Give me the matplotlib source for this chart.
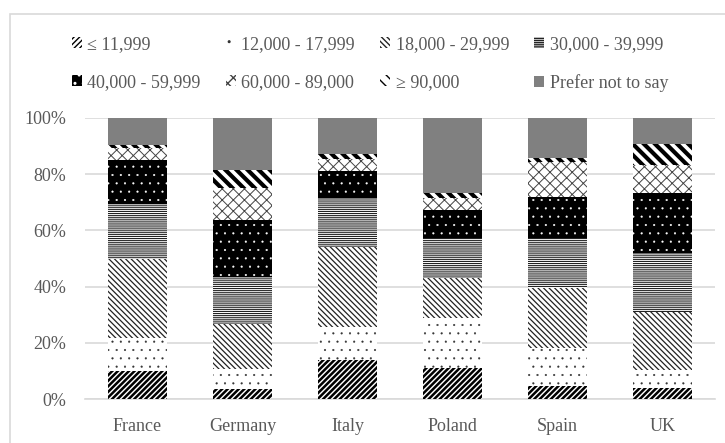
import matplotlib.pyplot as plt
import numpy as np
from matplotlib.patches import Rectangle

# Share of respondents by household income, per country (percent)
countries = ['France', 'Germany', 'Italy', 'Poland', 'Spain', 'UK']
income_bands = ['≤ 11,999', '12,000 - 17,999', '18,000 - 29,999', '30,000 - 39,999',
                '40,000 - 59,999', '60,000 - 89,000', '≥ 90,000', 'Prefer not to say']

under_12k = [10.0, 3.6, 13.9, 11.0, 4.6, 3.9]
from_12k = [11.7, 7.1, 11.7, 17.8, 13.5, 6.4]
from_18k = [28.1, 16.0, 28.5, 14.2, 21.4, 20.6]
from_30k = [19.6, 16.7, 17.4, 14.2, 17.8, 21.0]
from_40k = [15.7, 20.3, 9.6, 10.0, 14.6, 21.4]
from_60k = [4.3, 11.4, 4.3, 4.3, 12.5, 10.0]
over_90k = [1.0, 6.4, 1.8, 1.8, 1.4, 7.5]
prefer_not = [9.6, 18.5, 12.8, 26.7, 14.2, 9.3]

series = [under_12k, from_12k, from_18k, from_30k, from_40k, from_60k, over_90k, prefer_not]

# (facecolor, hatch colour, hatch, hatch linewidth)
styles = [
    ('white', 'black', '//////', 1.8),
    ('white', '#333333', '..', 0.3),
    ('white', '#222222', '\\' * 6, 0.9),
    ('white', '#222222', '-' * 8, 0.8),
    ('black', 'white', '..', 0.3),
    ('white', '#444444', 'xxx', 0.7),
    ('white', 'black', '\\\\\\', 3.0),
    ('#808080', '#808080', '', 1.0),
]

plt.rcParams['font.family'] = ['Liberation Serif', 'DejaVu Serif']
text_col = '#595959'

fig = plt.figure(figsize=(7.25, 4.43), dpi=100)
ax = fig.add_axes([85 / 725, 1 - 399 / 443, 630 / 725, 281 / 443])

x = np.arange(len(countries))
bottom = np.zeros(len(countries))
handles = []
for vals, label, (fc, hc, hatch, hlw) in zip(series, income_bands, styles):
    vals = np.array(vals) / 100
    bars = ax.bar(x, vals, 0.57, bottom=bottom, color=fc, edgecolor=hc, linewidth=0,
                  hatch=hatch, hatch_linewidth=hlw, label=label, zorder=3)
    handles.append(bars)
    bottom += vals

ax.set_xlim(-0.5, len(countries) - 0.5)
ax.set_ylim(0, 1)
ax.set_yticks(np.arange(0, 1.01, 0.2))
ax.set_yticklabels([f'{int(round(t * 100))}%' for t in np.arange(0, 1.01, 0.2)])
ax.set_xticks(x)
ax.set_xticklabels(countries)
ax.grid(axis='y', color='#d9d9d9', linewidth=1.2, zorder=0)
for side in ['top', 'right', 'left']:
    ax.spines[side].set_visible(False)
ax.spines['bottom'].set_color('#d9d9d9')
ax.spines['bottom'].set_linewidth(1.2)
ax.tick_params(length=0, labelsize=13, colors=text_col)
ax.tick_params(axis='x', pad=14)
ax.tick_params(axis='y', pad=13.5)

# legend is filled column-wise, so reorder to read row by row
order = [0, 4, 1, 5, 2, 6, 3, 7]
leg = fig.legend([handles[i] for i in order], [income_bands[i] for i in order],
                 ncol=4, loc='upper left', bbox_to_anchor=(72 / 725, 1 - 36 / 443),
                 frameon=False, fontsize=13, handlelength=0.55, handleheight=0.55,
                 handletextpad=0.3, columnspacing=1.4, labelspacing=1.15,
                 borderaxespad=0, borderpad=0)
for t in leg.get_texts():
    t.set_color(text_col)

# chart border
fig.add_artist(Rectangle((10 / 725, -0.05), 1.2, 1 - 14 / 443 + 0.05,
                         transform=fig.transFigure, fill=False,
                         edgecolor='#d9d9d9', linewidth=1.2))

fig.savefig('out.png', dpi=100)
